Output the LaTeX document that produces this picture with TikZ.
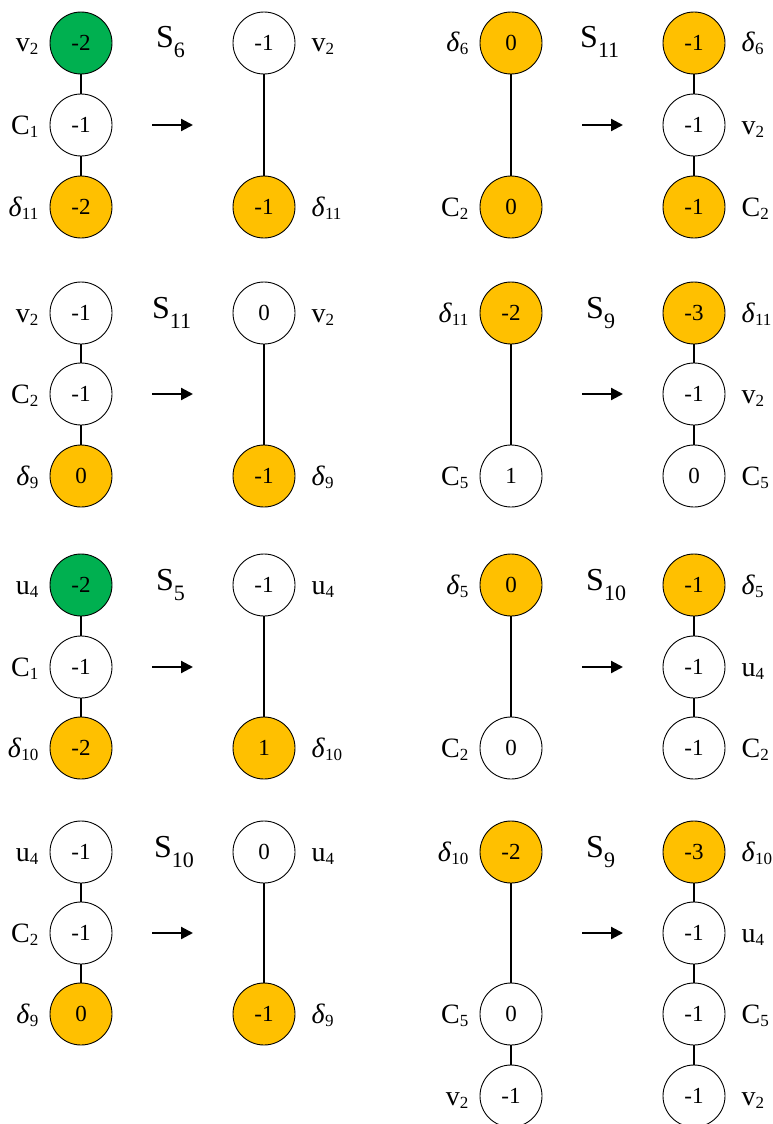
\documentclass[tikz,border=0pt]{standalone}
\usepackage{fontspec}
\setmainfont{Liberation Serif}
\usetikzlibrary{arrows.meta}
\definecolor{gr}{HTML}{00B050}
\definecolor{og}{HTML}{FFC000}
\tikzset{
 vx/.style={circle, draw=black, line width=0.9pt, minimum size=62pt, inner sep=0pt, font=\fontsize{23}{26}\selectfont},
 wv/.style={vx, fill=white},
 ov/.style={vx, fill=og},
 gv/.style={vx, fill=gr},
 lab/.style={inner sep=0pt, font=\fontsize{28}{31}\selectfont},
 edge/.style={line width=2.2pt},
 arr/.style={line width=2.2pt, -{Triangle[length=12pt,width=12pt]}},
 sl/.style={inner sep=0pt, anchor=base west, font=\fontsize{32}{36}\selectfont},
}
\newcommand\lsb[2]{#1\raisebox{-3pt}{\fontsize{17}{19}\selectfont #2}}
\newcommand\ssub[2]{#1\raisebox{-10pt}{\fontsize{22}{25}\selectfont #2}}
\newcommand\dl{\textit{δ}}
\newcommand\VL[6]{\node[#2] (#1) at (#3,#4) {#5}; \node[lab, anchor=base east] (#1-l) at ([xshift=-11pt,yshift=-9pt]#1.west) {#6};}
\newcommand\VR[6]{\node[#2] (#1) at (#3,#4) {#5}; \node[lab, anchor=base west] (#1-l) at ([xshift=16pt,yshift=-9pt]#1.east) {#6};}
\begin{document}
\begin{tikzpicture}[x=1pt,y=-1pt]
\useasboundingbox (0,0) rectangle (773,1124);
% ---------- Row 1 left
\VL{a1}{gv}{81}{43}{-2}{\lsb{v}{2}}
\VL{a2}{wv}{81}{125}{-1}{\lsb{C}{1}}
\VL{a3}{ov}{81}{207}{-2}{\lsb{\dl}{11}}
\draw[edge] (a1) -- (a2); \draw[edge] (a2) -- (a3);
\node[sl] (sa) at (156,48) {\ssub{S}{6}};
\coordinate (aas) at (152,125); \coordinate (aae) at (193,125);
\draw[arr] (aas) -- (aae);
\VR{b1}{wv}{264}{43}{-1}{\lsb{v}{2}}
\VR{b2}{ov}{264}{207}{-1}{\lsb{\dl}{11}}
\draw[edge] (b1) -- (b2);
% ---------- Row 1 right
\VL{c1}{ov}{511}{43}{0}{\lsb{\dl}{6}}
\VL{c2}{ov}{511}{207}{0}{\lsb{C}{2}}
\draw[edge] (c1) -- (c2);
\node[sl] (sc) at (580,48) {\ssub{S}{11}};
\coordinate (cas) at (582,125); \coordinate (cae) at (623,125);
\draw[arr] (cas) -- (cae);
\VR{d1}{ov}{694}{43}{-1}{\lsb{\dl}{6}}
\VR{d2}{wv}{694}{125}{-1}{\lsb{v}{2}}
\VR{d3}{ov}{694}{207}{-1}{\lsb{C}{2}}
\draw[edge] (d1) -- (d2); \draw[edge] (d2) -- (d3);
% ---------- Row 2 left
\VL{e1}{wv}{81}{313}{-1}{\lsb{v}{2}}
\VL{e2}{wv}{81}{394}{-1}{\lsb{C}{2}}
\VL{e3}{ov}{81}{476}{0}{\lsb{\dl}{9}}
\draw[edge] (e1) -- (e2); \draw[edge] (e2) -- (e3);
\node[sl] (se) at (152,318) {\ssub{S}{11}};
\coordinate (eas) at (152,394); \coordinate (eae) at (193,394);
\draw[arr] (eas) -- (eae);
\VR{f1}{wv}{264}{313}{0}{\lsb{v}{2}}
\VR{f2}{ov}{264}{476}{-1}{\lsb{\dl}{9}}
\draw[edge] (f1) -- (f2);
% ---------- Row 2 right
\VL{g1}{ov}{511}{313}{-2}{\lsb{\dl}{11}}
\VL{g2}{wv}{511}{476}{1}{\lsb{C}{5}}
\draw[edge] (g1) -- (g2);
\node[sl] (sg) at (586,318) {\ssub{S}{9}};
\coordinate (gas) at (582,394); \coordinate (gae) at (623,394);
\draw[arr] (gas) -- (gae);
\VR{h1}{ov}{694}{313}{-3}{\lsb{\dl}{11}}
\VR{h2}{wv}{694}{394}{-1}{\lsb{v}{2}}
\VR{h3}{wv}{694}{476}{0}{\lsb{C}{5}}
\draw[edge] (h1) -- (h2); \draw[edge] (h2) -- (h3);
% ---------- Row 3 left
\VL{i1}{gv}{81}{585}{-2}{\lsb{u}{4}}
\VL{i2}{wv}{81}{667}{-1}{\lsb{C}{1}}
\VL{i3}{ov}{81}{748}{-2}{\lsb{\dl}{10}}
\draw[edge] (i1) -- (i2); \draw[edge] (i2) -- (i3);
\node[sl] (si) at (156,590) {\ssub{S}{5}};
\coordinate (ias) at (152,667); \coordinate (iae) at (193,667);
\draw[arr] (ias) -- (iae);
\VR{j1}{wv}{264}{585}{-1}{\lsb{u}{4}}
\VR{j2}{ov}{264}{748}{1}{\lsb{\dl}{10}}
\draw[edge] (j1) -- (j2);
% ---------- Row 3 right
\VL{k1}{ov}{511}{585}{0}{\lsb{\dl}{5}}
\VL{k2}{wv}{511}{748}{0}{\lsb{C}{2}}
\draw[edge] (k1) -- (k2);
\node[sl] (sk) at (586,590) {\ssub{S}{10}};
\coordinate (kas) at (582,667); \coordinate (kae) at (623,667);
\draw[arr] (kas) -- (kae);
\VR{l1}{ov}{694}{585}{-1}{\lsb{\dl}{5}}
\VR{l2}{wv}{694}{667}{-1}{\lsb{u}{4}}
\VR{l3}{wv}{694}{748}{-1}{\lsb{C}{2}}
\draw[edge] (l1) -- (l2); \draw[edge] (l2) -- (l3);
% ---------- Row 4 left
\VL{m1}{wv}{81}{852}{-1}{\lsb{u}{4}}
\VL{m2}{wv}{81}{933}{-1}{\lsb{C}{2}}
\VL{m3}{ov}{81}{1014}{0}{\lsb{\dl}{9}}
\draw[edge] (m1) -- (m2); \draw[edge] (m2) -- (m3);
\node[sl] (sm) at (154,857) {\ssub{S}{10}};
\coordinate (mas) at (152,933); \coordinate (mae) at (193,933);
\draw[arr] (mas) -- (mae);
\VR{n1}{wv}{264}{852}{0}{\lsb{u}{4}}
\VR{n2}{ov}{264}{1014}{-1}{\lsb{\dl}{9}}
\draw[edge] (n1) -- (n2);
% ---------- Row 4 right
\VL{o1}{ov}{511}{852}{-2}{\lsb{\dl}{10}}
\VL{o2}{wv}{511}{1014}{0}{\lsb{C}{5}}
\VL{o3}{wv}{511}{1096}{-1}{\lsb{v}{2}}
\draw[edge] (o1) -- (o2); \draw[edge] (o2) -- (o3);
\node[sl] (so) at (586,857) {\ssub{S}{9}};
\coordinate (oas) at (582,933); \coordinate (oae) at (623,933);
\draw[arr] (oas) -- (oae);
\VR{p1}{ov}{694}{852}{-3}{\lsb{\dl}{10}}
\VR{p2}{wv}{694}{933}{-1}{\lsb{u}{4}}
\VR{p3}{wv}{694}{1014}{-1}{\lsb{C}{5}}
\VR{p4}{wv}{694}{1096}{-1}{\lsb{v}{2}}
\draw[edge] (p1) -- (p2); \draw[edge] (p2) -- (p3); \draw[edge] (p3) -- (p4);
\end{tikzpicture}
\end{document}
